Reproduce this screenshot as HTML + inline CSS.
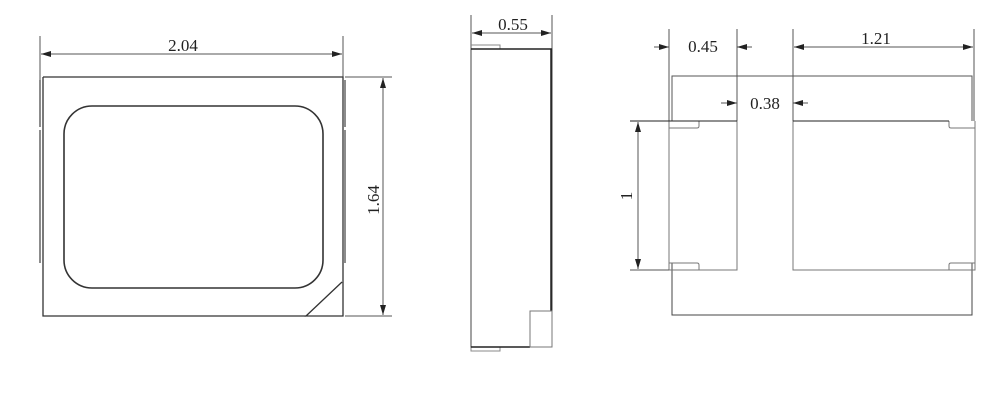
<!DOCTYPE html>
<html><head><meta charset="utf-8"><style>
html,body{margin:0;padding:0;background:#fff;width:1000px;height:407px;overflow:hidden}
text{font-family:"Liberation Serif",serif;font-size:17px;fill:#222}
</style></head><body>
<svg width="1000" height="407" viewBox="0 0 1000 407" xmlns="http://www.w3.org/2000/svg">
<defs>
<marker id="a" viewBox="0 0 10 6" refX="10" refY="3" markerWidth="11" markerHeight="6" orient="auto-start-reverse" markerUnits="userSpaceOnUse"><path d="M0,0 L10,3 L0,6z" fill="#222"/></marker>
</defs>
<g fill="none" stroke="#555" stroke-width="1">
<line x1="40" y1="36" x2="40" y2="80"/>
<line x1="343" y1="36" x2="343" y2="80"/>
<line x1="41" y1="54" x2="342" y2="54" marker-start="url(#a)" marker-end="url(#a)"/>
<path d="M43,77 H343 V316 H306 L342,282" stroke="#333" stroke-width="1.3"/>
<path d="M43,77 V316 H306" stroke="#333" stroke-width="1.3"/>
<path d="M40,80 V127 M40,130 V263 M345,80 V127 M345,130 V263" stroke="#666" stroke-width="1.5"/>
<rect x="64" y="106" width="259" height="182" rx="28" stroke="#333" stroke-width="1.6"/>
<line x1="345" y1="77" x2="392" y2="77"/>
<line x1="345" y1="316" x2="392" y2="316"/>
<line x1="383" y1="78" x2="383" y2="315" marker-start="url(#a)" marker-end="url(#a)"/>
<line x1="471" y1="15" x2="471" y2="49"/>
<line x1="552" y1="15" x2="552" y2="49"/>
<line x1="472" y1="33" x2="551" y2="33" marker-start="url(#a)" marker-end="url(#a)"/>
<path d="M471,45 H500 V49" stroke="#888"/>
<path d="M471,347 V351 H500 V347" stroke="#888"/>
<rect x="471" y="49" width="81" height="298" stroke="#444"/>
<line x1="471" y1="49" x2="552" y2="49" stroke="#222" stroke-width="1.5"/>
<line x1="551" y1="49" x2="551" y2="311" stroke="#222" stroke-width="1.5"/>
<line x1="471" y1="347" x2="530" y2="347" stroke="#222" stroke-width="1.5"/>
<rect x="530" y="311" width="22" height="36" stroke="#777"/>
<path d="M672,121 V76 H972 V121" stroke="#555"/>
<path d="M672,263 V315 H972 V263" stroke="#444"/>
<path d="M669,121 V270 H737 V121" stroke="#777"/>
<path d="M793,121 V270 H975 V121" stroke="#777"/>
<path d="M669,128 H697 Q699,128 699,126 V121" stroke="#777"/>
<path d="M669,263 H697 Q699,263 699,265 V270" stroke="#777"/>
<path d="M975,128 H951 Q949,128 949,126 V121" stroke="#777"/>
<path d="M975,263 H951 Q949,263 949,265 V270" stroke="#777"/>
<line x1="669" y1="29" x2="669" y2="121"/>
<line x1="737" y1="29" x2="737" y2="121"/>
<line x1="793" y1="29" x2="793" y2="121"/>
<line x1="974" y1="29" x2="974" y2="121"/>
<line x1="654" y1="47" x2="669" y2="47" marker-end="url(#a)"/>
<line x1="752" y1="47" x2="737" y2="47" marker-end="url(#a)"/>
<line x1="794" y1="47" x2="973" y2="47" marker-start="url(#a)" marker-end="url(#a)"/>
<line x1="721" y1="103" x2="737" y2="103" marker-end="url(#a)"/>
<line x1="808" y1="103" x2="793" y2="103" marker-end="url(#a)"/>
<line x1="630" y1="121" x2="737" y2="121" stroke="#222"/>
<line x1="793" y1="121" x2="949" y2="121" stroke="#222"/>
<line x1="630" y1="270" x2="669" y2="270"/>
<line x1="638" y1="122" x2="638" y2="269" marker-start="url(#a)" marker-end="url(#a)"/>
</g>
<text x="183" y="51" text-anchor="middle">2.04</text>
<text transform="translate(379,200) rotate(-90)" text-anchor="middle">1.64</text>
<text x="513" y="30" text-anchor="middle">0.55</text>
<text x="703" y="52" text-anchor="middle">0.45</text>
<text x="876" y="44" text-anchor="middle">1.21</text>
<text x="765" y="109" text-anchor="middle">0.38</text>
<text transform="translate(632,196) rotate(-90)" text-anchor="middle">1</text>
</svg>
</body></html>
